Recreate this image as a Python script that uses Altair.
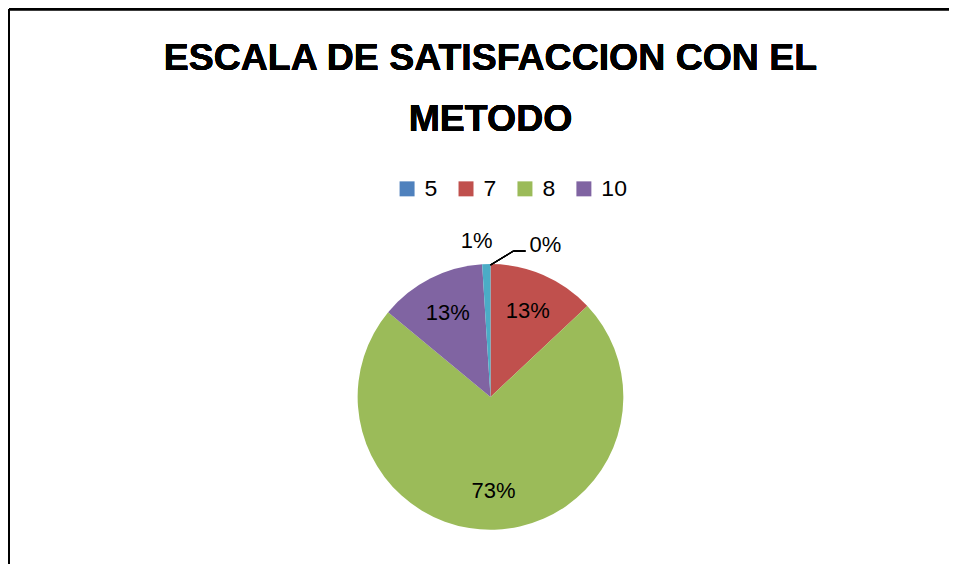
import altair as alt
import pandas as pd

# Data
categories = ["5", "7", "8", "10", "otro"]
values = [0, 13, 73, 13, 1]
labels = ["0%", "13%", "73%", "13%", "1%"]
order_idx = [0, 1, 2, 3, 4]
legend_values = ["5", "7", "8", "10"]
colors = ["#4F81BD", "#C0504D", "#9BBB59", "#8064A2", "#4BACC6"]
title_lines = ["ESCALA DE SATISFACCION CON EL", "METODO"]

df = pd.DataFrame({"cat": categories, "value": values, "label": labels, "idx": order_idx})

FONT = "Liberation Sans"
CX, CY, R = 482, 388, 133

base = alt.Chart(df).encode(
    theta=alt.Theta("value:Q", stack=True),
    order=alt.Order("idx:Q"),
)

color = alt.Color(
    "cat:N",
    scale=alt.Scale(domain=categories, range=colors),
    legend=alt.Legend(
        title=None,
        orient="none",
        legendX=387,
        legendY=168,
        direction="horizontal",
        columns=4,
        gridAlign="all",
        symbolType="square",
        symbolSize=225,
        symbolStrokeWidth=0,
        labelFont=FONT,
        labelFontSize=23,
        labelColor="#000000",
        labelOffset=6,
        columnPadding=4,
        padding=0,
        values=legend_values,
    ),
)

pie = base.mark_arc(outerRadius=R).encode(
    color=color, x=alt.value(CX), y=alt.value(CY)
)

inside = base.transform_calculate(
    lab="datum.value >= 5 ? datum.label : ''"
).mark_text(radius=94, font=FONT, fontSize=22, color="black").encode(
    text="lab:N", x=alt.value(CX), y=alt.value(CY)
)

out_one = base.transform_calculate(
    lab="datum.cat == 'otro' ? datum.label : ''"
).mark_text(radius=156, dx=-9, font=FONT, fontSize=22, color="black").encode(
    text="lab:N", x=alt.value(CX), y=alt.value(CY)
)

out_zero = base.transform_calculate(
    lab="datum.value < 1 ? datum.label : ''"
).mark_text(radius=152, dx=55, font=FONT, fontSize=22, color="black").encode(
    text="lab:N", x=alt.value(CX), y=alt.value(CY)
)

leader1 = alt.Chart(df).mark_rule(color="black", strokeWidth=1.2).encode(
    x=alt.value(482), y=alt.value(256), x2=alt.value(505), y2=alt.value(242)
)
leader2 = alt.Chart(df).mark_rule(color="black", strokeWidth=1.2).encode(
    x=alt.value(505), y=alt.value(242), x2=alt.value(517), y2=alt.value(242)
)

title1 = alt.Chart(df).mark_text(
    font=FONT, fontSize=37.5, fontWeight="bold", color="black", baseline="alphabetic", align="center"
).encode(x=alt.value(482), y=alt.value(61), text=alt.value(title_lines[0]))
title2 = alt.Chart(df).mark_text(
    font=FONT, fontSize=37.5, fontWeight="bold", color="black", baseline="alphabetic", align="center"
).encode(x=alt.value(482), y=alt.value(122), text=alt.value(title_lines[1]))

border_top = alt.Chart(df).mark_rule(color="black", strokeWidth=2).encode(
    x=alt.value(0), x2=alt.value(941), y=alt.value(0)
)
border_left = alt.Chart(df).mark_rule(color="black", strokeWidth=2).encode(
    x=alt.value(0), y=alt.value(0), y2=alt.value(555)
)

chart = alt.layer(
    pie, inside, out_one, out_zero, leader1, leader2, title1, title2, border_top, border_left
).properties(width=940, height=555, padding=0).configure_view(stroke=None)

chart.save("out.html", embed_options={"renderer": "svg", "actions": False})
